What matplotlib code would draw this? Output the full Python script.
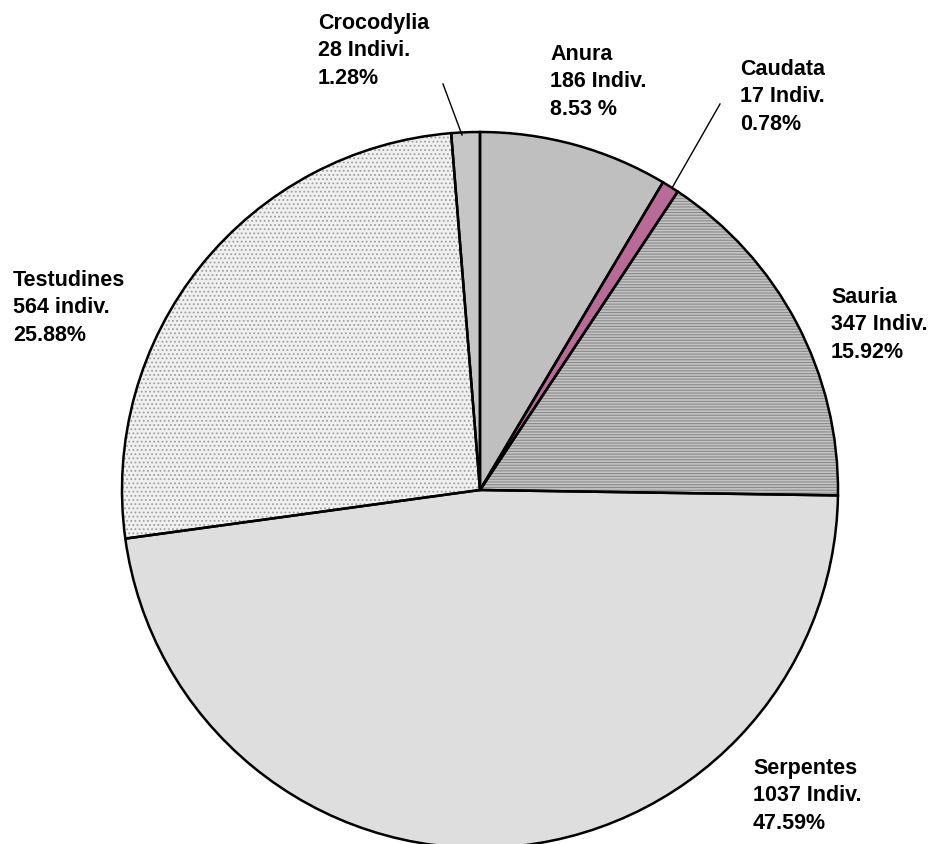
import matplotlib
matplotlib.use("Agg")
import matplotlib.pyplot as plt

# Data
orders = ["Anura", "Caudata", "Sauria", "Serpentes", "Testudines", "Crocodylia"]
counts = [186, 17, 347, 1037, 564, 28]
count_labels = ["186 Indiv.", "17 Indiv.", "347 Indiv.", "1037 Indiv.", "564 indiv.", "28 Indivi."]
pct_labels = ["8.53 %", "0.78%", "15.92%", "47.59%", "25.88%", "1.28%"]

face_colors = ["#bfbfbf", "#b96a96", "#c4c4c4", "#dedede", "#f0f0f0", "#c6c6c6"]
hatches = ["", "", "------", "", "....", ""]
hatch_colors = ["#9a9a9a", "#b96a96", "#8a8a8a", "#c8c8c8", "#a0a0a0", "#9a9a9a"]

plt.rcParams['font.family'] = ['Liberation Sans', 'DejaVu Sans']
plt.rcParams['hatch.linewidth'] = 0.8

W, H = 931, 844
fig = plt.figure(figsize=(W / 100, H / 100), dpi=100)
ax = fig.add_axes([0, 0, 1, 1])

cx, cy, R = 480, H - 490, 358

# base fill
ax.pie(counts, startangle=90, counterclock=False, center=(cx, cy), radius=R,
       colors=face_colors, wedgeprops=dict(linewidth=0), frame=True)
# hatch overlay
w2, _ = ax.pie(counts, startangle=90, counterclock=False, center=(cx, cy), radius=R,
               colors=["none"] * len(counts), frame=True,
               wedgeprops=dict(linewidth=0))
for w, h, hc in zip(w2, hatches, hatch_colors):
    w.set_facecolor("none")
    w.set_edgecolor(hc)
    w.set_hatch(h)
    w.set_linewidth(0)
# outlines
ax.pie(counts, startangle=90, counterclock=False, center=(cx, cy), radius=R,
       colors=["none"] * len(counts), frame=True,
       wedgeprops=dict(linewidth=1.8, edgecolor="black", facecolor="none"))
ax.set_xlim(0, W)
ax.set_ylim(0, H)
ax.set_aspect('equal')
ax.axis('off')

# label placement (left x, baseline of last line, pixels from top)
label_pos = {
    "Anura": (550, 115),
    "Caudata": (740, 130),
    "Sauria": (831, 358),
    "Serpentes": (753, 829),
    "Testudines": (13, 341),
    "Crocodylia": (318, 84),
}
for name, cl, pl in zip(orders, count_labels, pct_labels):
    x, y = label_pos[name]
    ax.text(x, H - y, f"{name}\n{cl}\n{pl}", ha='left', va='baseline',
            fontsize=15.5, fontweight='bold', linespacing=1.42,
            transform=ax.transData)

# leader lines
ax.plot([462, 443], [H - 135, H - 84], color='black', lw=1.0)
ax.plot([672, 720], [H - 188, H - 104], color='black', lw=1.0)

fig.savefig("out.png", dpi=100)
